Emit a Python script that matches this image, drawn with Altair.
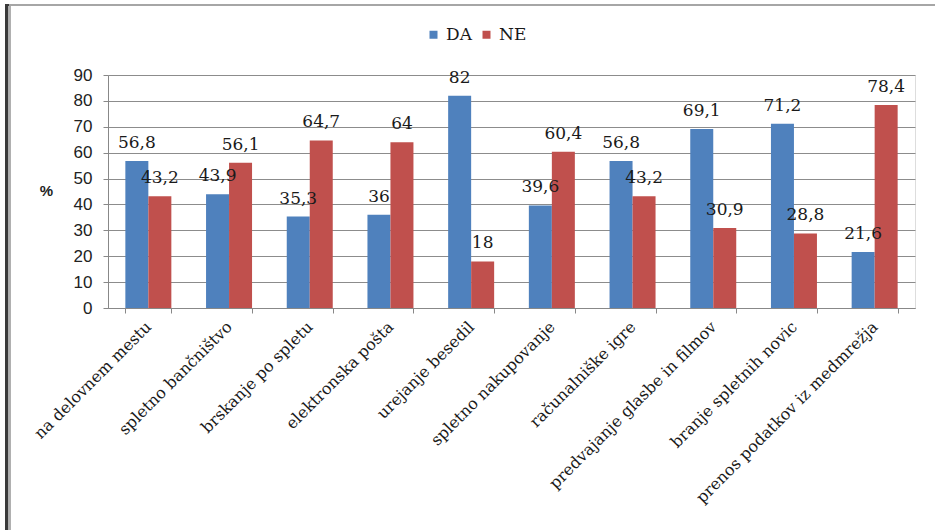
import altair as alt
import pandas as pd

categories = [
    "na delovnem mestu", "spletno bančništvo", "brskanje po spletu",
    "elektronska pošta", "urejanje besedil", "spletno nakupovanje",
    "računalniške igre", "predvajanje glasbe in filmov",
    "branje spletnih novic", "prenos podatkov iz medmrežja",
]
da = [56.8, 43.9, 35.3, 36, 82, 39.6, 56.8, 69.1, 71.2, 21.6]
ne = [43.2, 56.1, 64.7, 64, 18, 60.4, 43.2, 30.9, 28.8, 78.4]
series = ["DA", "NE"]
colors = ["#4F81BD", "#C0504D"]
y_ticks = list(range(0, 91, 10))

rows = []
for c, a, b in zip(categories, da, ne):
    rows.append({"kat": c, "serija": "DA", "v": a, "lab": f"{a:g}".replace(".", ",")})
    rows.append({"kat": c, "serija": "NE", "v": b, "lab": f"{b:g}".replace(".", ",")})
df = pd.DataFrame(rows)

serif = "DejaVu Serif"
sans = "Liberation Sans"

x_enc = alt.X("kat:N", sort=categories,
              scale=alt.Scale(paddingInner=0.43, paddingOuter=0.215),
              axis=alt.Axis(title=None, labelAngle=-45, labelAlign="right",
                            labelBaseline="middle", labelFont=serif,
                            labelFontSize=16, labelColor="#1a1a1a",
                            labelPadding=11, tickBand="extent", tickSize=5,
                            tickColor="#888", domainColor="#888",
                            labelLimit=400, grid=False))
y_enc = alt.Y("v:Q", scale=alt.Scale(domain=[0, 90]),
              axis=alt.Axis(values=y_ticks, title="%", titleAngle=0,
                            titleFont=sans, titleFontSize=15,
                            titleFontWeight="bold", titleX=-62, titleY=115,
                            titleAlign="center", titleBaseline="middle",
                            titleColor="#222", labelOverlap=False,
                            labelFont=sans, labelFontSize=17, labelColor="#222",
                            labelPadding=11, tickSize=5, tickColor="#888",
                            domainColor="#888", gridColor="#8c8c8c"))
xo = alt.XOffset("serija:N", sort=series,
                 scale=alt.Scale(paddingInner=0, paddingOuter=0))

bars = alt.Chart(df).mark_bar().encode(
    x=x_enc, y=y_enc, xOffset=xo,
    color=alt.Color("serija:N", sort=series,
                    scale=alt.Scale(domain=series, range=colors),
                    legend=alt.Legend(title=None, orient="none",
                                      direction="horizontal",
                                      legendX=317, legendY=-49, padding=0,
                                      symbolType="square", symbolSize=64,
                                      symbolStrokeWidth=0,
                                      labelFont=serif, labelFontSize=17,
                                      labelColor="#1a1a1a", columnPadding=6,
                                      labelOffset=4)),
)

labels = alt.Chart(df).mark_text(baseline="alphabetic", dy=-13, font=serif,
                                 fontSize=17, color="#1a1a1a").encode(
    x=x_enc, y=y_enc, xOffset=xo, text="lab:N"
)

frame_left = alt.Chart(df).mark_rule(color="#3a3a3a", strokeWidth=3).encode(
    x=alt.value(-101), y=alt.value(-71), y2=alt.value(600))
frame_left2 = alt.Chart(df).mark_rule(color="#b0b0b0", strokeWidth=1.5).encode(
    x=alt.value(-98.5), y=alt.value(-69), y2=alt.value(600))
frame_top = alt.Chart(df).mark_rule(color="#a6a6a6", strokeWidth=2).encode(
    x=alt.value(-99), x2=alt.value(900), y=alt.value(-70))

chart = alt.layer(bars, labels, frame_left, frame_left2, frame_top).properties(
    width=807, height=233,
    autosize=alt.AutoSizeParams(type="none"),
    padding={"left": 108, "top": 75, "right": 20, "bottom": 222},
).configure_view(stroke=None).configure(background="white")

chart.save("out.html", embed_options={"renderer": "svg", "actions": False})
